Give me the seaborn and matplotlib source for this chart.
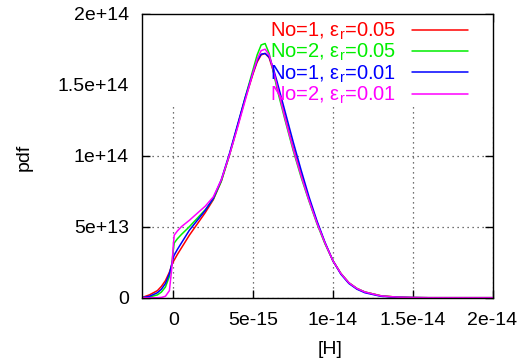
import numpy as np
import pandas as pd
import matplotlib
matplotlib.use("Agg")
import matplotlib.pyplot as plt
from matplotlib.patches import Rectangle
import seaborn as sns

# ---- data (x in units of 1e-15 H, pdf in units of 1e13) ----
x_vals = [-2, -1.5, -1, -0.75, -0.5, -0.25, -0.1, 0, 0.05, 0.25, 0.5, 1, 1.5, 2, 2.5, 3,
          3.5, 4, 4.5, 5, 5.25, 5.5, 5.75, 6, 6.25, 6.5, 7, 7.5, 8, 8.5, 9, 9.5,
          10, 10.5, 11, 11.5, 12, 13, 14, 15, 16, 18, 20]

red_vals = [0.0, 0.2, 0.5, 0.8, 1.2, 1.8, 2.3, 2.55, 2.65, 3.05, 3.5, 4.4, 5.2, 6.0, 6.9, 8.2,
            10.0, 12.0, 14.0, 15.8, 16.6, 17.1, 17.2, 16.9, 16.0, 14.9, 12.7, 10.6, 8.7, 6.9, 5.3, 3.85,
            2.6, 1.7, 1.05, 0.65, 0.4, 0.14, 0.04, 0.01, 0.0, 0.0, 0.0]
green_vals = [0.0, 0.05, 0.2, 0.4, 0.75, 1.5, 2.4, 3.4, 3.85, 4.15, 4.45, 5.0, 5.6, 6.2, 6.95, 8.2,
              10.0, 12.0, 14.1, 16.1, 17.1, 17.8, 17.9, 17.2, 16.0, 14.7, 12.5, 10.4, 8.5, 6.8, 5.2, 3.8,
              2.6, 1.7, 1.05, 0.65, 0.4, 0.13, 0.04, 0.01, 0.0, 0.0, 0.0]
blue_vals = [0.0, 0.1, 0.35, 0.6, 1.0, 1.7, 2.35, 2.85, 3.0, 3.4, 3.85, 4.75, 5.45, 6.15, 7.0, 8.3,
             10.1, 12.1, 14.1, 15.9, 16.7, 17.15, 17.2, 16.95, 16.2, 15.2, 13.1, 11.0, 9.0, 7.1, 5.4, 3.9,
             2.6, 1.65, 1.0, 0.6, 0.35, 0.1, 0.03, 0.01, 0.0, 0.0, 0.0]
magenta_vals = [0.0, 0.0, 0.0, 0.02, 0.1, 0.5, 2.1, 3.8, 4.4, 4.7, 5.0, 5.45, 5.95, 6.45, 7.1, 8.3,
                10.0, 11.9, 13.9, 15.9, 16.8, 17.4, 17.5, 17.1, 16.1, 14.9, 12.6, 10.5, 8.6, 6.85, 5.25, 3.85,
                2.6, 1.7, 1.05, 0.65, 0.4, 0.13, 0.04, 0.01, 0.0, 0.0, 0.0]

series_labels = ["No=1, ε$_r$=0.05", "No=2, ε$_r$=0.05", "No=1, ε$_r$=0.01", "No=2, ε$_r$=0.01"]
series_colors = ["#ff0000", "#00ee00", "#0000ff", "#ff00ff"]

x_ticks = [0, 5e-15, 1e-14, 1.5e-14, 2e-14]
x_ticklabels = ["0", "5e-15", "1e-14", "1.5e-14", "2e-14"]
y_ticks = [0, 5e13, 1e14, 1.5e14, 2e14]
y_ticklabels = ["0", "5e+13", "1e+14", "1.5e+14", "2e+14"]

# ---- build long table ----
frames = []
for lab, vals in zip(series_labels, [red_vals, green_vals, blue_vals, magenta_vals]):
    frames.append(pd.DataFrame({"x": np.array(x_vals) * 1e-15,
                                "pdf": np.array(vals) * 1e13,
                                "series": lab}))
df = pd.concat(frames, ignore_index=True)

sns.set_theme(style="white")
plt.rcParams["font.family"] = ["Liberation Sans", "DejaVu Sans"]
plt.rcParams["mathtext.fontset"] = "custom"
plt.rcParams["mathtext.rm"] = "Liberation Sans"
plt.rcParams["mathtext.it"] = "Liberation Sans"

FS = 14
LFS = 14.5

fig = plt.figure(figsize=(5.2, 3.64), dpi=100)
L, R, T, B = 141.5, 492.5, 13.7, 297.7
W, H = R - L, B - T
ax = fig.add_axes([L / 520, (364 - B) / 364, W / 520, H / 364])

sns.lineplot(data=df, x="x", y="pdf", hue="series", palette=dict(zip(series_labels, series_colors)),
             hue_order=series_labels, linewidth=1.1, ax=ax, sort=False, legend=True, zorder=3)

ax.set_xlim(-2e-15, 2e-14)
ax.set_ylim(0, 2e14)
ax.set_xticks(x_ticks)
ax.set_xticklabels(x_ticklabels)
ax.set_yticks(y_ticks)
ax.set_yticklabels(y_ticklabels)
ax.tick_params(direction="in", length=6, width=1, top=True, right=True, labelsize=FS,
               colors="black", bottom=True, left=True)
ax.tick_params(axis="x", pad=10)
ax.tick_params(axis="y", pad=9)
for s in ax.spines.values():
    s.set_color("black")
    s.set_linewidth(1.0)
    s.set_zorder(5)

ax.grid(True, linestyle=(0, (1, 3)), color="#444444", linewidth=0.9)
ax.set_axisbelow(True)
# key area blanks the grid
ax.add_patch(Rectangle((0, 0.675), 1, 0.325, transform=ax.transAxes, facecolor="white",
                       edgecolor="none", zorder=1.5))

ax.set_xlabel("[H]", fontsize=FS, color="black")
ax.set_ylabel("pdf", fontsize=FS, color="black")
ax.xaxis.set_label_coords((330 - L) / W, -(341 - B) / H, transform=ax.transAxes)
ax.yaxis.set_label_coords(-(L - 33) / W, (B - 157) / H, transform=ax.transAxes)

handles, labels = ax.get_legend_handles_labels()
leg = ax.legend(handles, labels, loc="upper right", bbox_to_anchor=(1 - 24.5 / W, 1 - 7 / H),
                frameon=False, markerfirst=False, fontsize=LFS, handlelength=2.8,
                handletextpad=0.75, labelspacing=0.0, borderpad=0, borderaxespad=0)
for t, c in zip(leg.get_texts(), series_colors):
    t.set_color(c)
    t.set_ha("right")
leg.set_zorder(6)

fig.savefig("out.png", dpi=100)
